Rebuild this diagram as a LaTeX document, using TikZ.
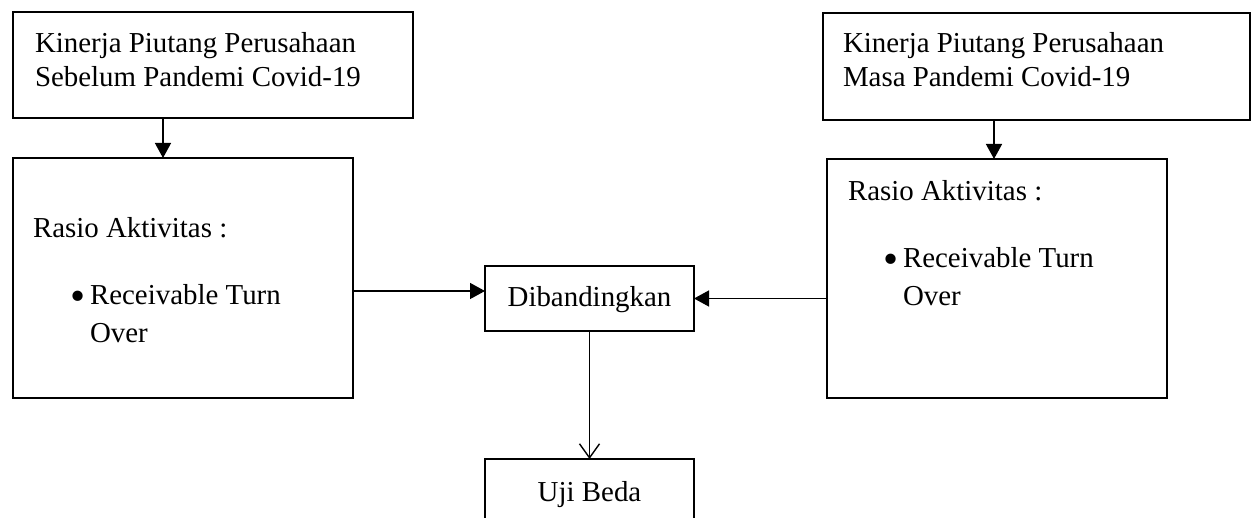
\documentclass[tikz,border=0pt]{standalone}
\usepackage{fontspec}
\setmainfont{Liberation Serif}
\usetikzlibrary{arrows.meta}
\begin{document}
\begin{tikzpicture}[x=1pt,y=-1pt,
  box/.style={draw, line width=1.4pt, rectangle, inner sep=0pt, outer sep=0pt, anchor=north west},
  txt/.style={inner sep=0pt, outer sep=0pt, anchor=base west, font=\fontsize{28.9}{33}\selectfont},
  ctxt/.style={txt, anchor=base},
  bul/.style={inner sep=0pt, outer sep=0pt, anchor=center, font=\fontsize{43}{43}\selectfont},
  conn/.style={line width=1.4pt, -{Triangle[length=15pt,width=16pt]}},
  openconn/.style={line width=1.4pt, -{Straight Barb[length=14pt,width=20pt,line width=1.4pt]}}]
\clip (0,0) rectangle (1258,518);
\fill[white] (0,0) rectangle (1258,518);
% boxes
\node[box, minimum width=400pt, minimum height=106pt] (A) at (13,12) {};
\node[box, minimum width=427pt, minimum height=107pt] (B) at (823,13) {};
\node[box, minimum width=340pt, minimum height=240pt] (C) at (13,158) {};
\node[box, minimum width=340pt, minimum height=239pt] (D) at (827,159) {};
\node[box, minimum width=209pt, minimum height=65pt] (Dib) at (485,266) {};
\node[box, minimum width=209pt, minimum height=90pt] (Uji) at (485,459) {};
% texts
\node[txt] (a1) at (35,53) {Kinerja Piutang Perusahaan};
\node[txt] (a2) at (35,87) {Sebelum Pandemi Covid-19};
\node[txt] (b1) at (843,53) {Kinerja Piutang Perusahaan};
\node[txt] (b2) at (843,87) {Masa Pandemi Covid-19};
\node[txt] (c1) at (33,238) {Rasio Aktivitas :};
\node[bul] (c2) at (78.5,301) {•};
\node[txt] (c3) at (90,305) {Receivable Turn};
\node[txt] (c4) at (90,343) {Over};
\node[txt] (d1) at (848,201) {Rasio Aktivitas :};
\node[bul] (d2) at (891.5,264) {•};
\node[txt] (d3) at (903,268) {Receivable Turn};
\node[txt] (d4) at (903,306) {Over};
\node[ctxt] (dt) at (589.5,307) {Dibandingkan};
\node[ctxt] (ut) at (589.5,501) {Uji Beda};
% connectors
\draw[conn] ([xshift=150pt]A.south west) -- ([xshift=150pt]C.north west);
\draw[conn] ([xshift=171pt]B.south west) -- ([xshift=167pt]D.north west);
\draw[conn] ([yshift=-13pt]C.east) -- ([yshift=-13pt]C.east -| Dib.west);
\draw[conn] ([yshift=-20pt]D.west) -- ([yshift=-20pt]D.west -| Dib.east);
\draw[openconn] (Dib.south) -- (Uji.north);
\end{tikzpicture}
\end{document}
